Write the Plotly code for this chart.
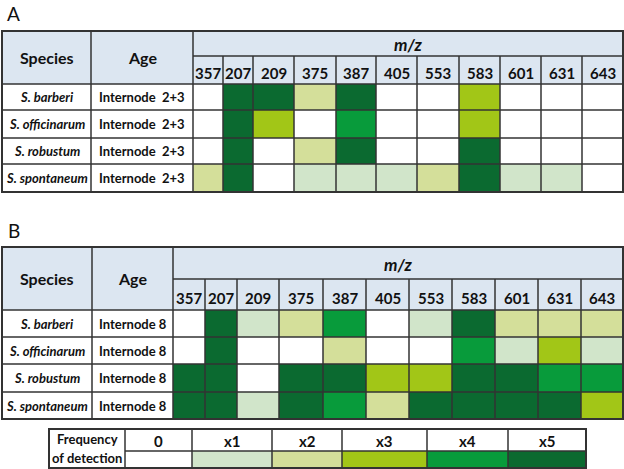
import plotly.graph_objects as go

# ---------------- data ----------------
mz_labels = ["357", "207", "209", "375", "387", "405", "553", "583", "601", "631", "643"]
species = ["S. barberi", "S. officinarum", "S. robustum", "S. spontaneum"]
age_A = "Internode  2+3"
age_B = "Internode 8"

# frequency of detection (0 .. 5)
freq_A_barberi = [0, 5, 5, 2, 5, 0, 0, 3, 0, 0, 0]
freq_A_officinarum = [0, 5, 3, 0, 4, 0, 0, 3, 0, 0, 0]
freq_A_robustum = [0, 5, 0, 2, 5, 0, 0, 5, 0, 0, 0]
freq_A_spontaneum = [2, 5, 0, 1, 1, 1, 2, 5, 1, 1, 0]

freq_B_barberi = [0, 5, 1, 2, 4, 0, 1, 5, 2, 2, 2]
freq_B_officinarum = [0, 5, 0, 0, 2, 0, 0, 4, 1, 3, 1]
freq_B_robustum = [5, 5, 0, 5, 5, 3, 3, 5, 5, 4, 4]
freq_B_spontaneum = [5, 5, 1, 5, 4, 2, 5, 5, 5, 5, 3]

legend_levels = [0, 1, 2, 3, 4, 5]
legend_labels = ["0", "x1", "x2", "x3", "x4", "x5"]

# ---------------- style / layout ----------------
W, H = 624, 469
level_colors = ["#ffffff", "#d1e5ca", "#d4df9a", "#a2c617", "#089b3b", "#0b6a30"]
header_bg = "#dce6f1"
line_col = "#333333"
FONT = "Lato"

colorscale = []
for i, c in enumerate(level_colors):
    colorscale.append([i / 6, c])
    colorscale.append([(i + 1) / 6, c])

panels = [
    dict(label="A", label_xy=(13, 1), age=age_A,
         z=[freq_A_barberi, freq_A_officinarum, freq_A_robustum, freq_A_spontaneum],
         left=2, right=623, top=31, mid=56, hdr=84,
         rows=[84, 110, 138, 164, 192],
         col_species=91, col_age=193,
         cols=[193, 223, 253, 294, 336, 376, 417, 459, 500, 541, 582, 623]),
    dict(label="B", label_xy=(14, 218), age=age_B,
         z=[freq_B_barberi, freq_B_officinarum, freq_B_robustum, freq_B_spontaneum],
         left=2, right=623, top=247, mid=279, hdr=310,
         rows=[310, 337, 364, 392, 419],
         col_species=92, col_age=173,
         cols=[173, 205, 237, 279, 323, 366, 409, 452, 495, 538, 581, 623]),
]

fig = go.Figure()
shapes = []
annotations = []


def line(x0, y0, x1, y1, w=1.5):
    shapes.append(dict(type="line", x0=x0, y0=y0, x1=x1, y1=y1, xref="x", yref="y",
                       line=dict(color=line_col, width=w), layer="above"))


def text(x, y, s, size=13, bold=True, italic=False):
    t = s
    if italic:
        t = "<i>" + t + "</i>"
    if bold:
        t = "<b>" + t + "</b>"
    annotations.append(dict(x=x, y=y, xref="x", yref="y", text=t, showarrow=False,
                            font=dict(family=FONT, size=size, color="#111111"),
                            xanchor="center", yanchor="middle"))


for p in panels:
    # header background
    shapes.append(dict(type="rect", x0=p["left"], x1=p["right"], y0=p["top"], y1=p["hdr"],
                       xref="x", yref="y", fillcolor=header_bg, line=dict(width=0), layer="below"))
    # cells
    fig.add_trace(go.Heatmap(z=p["z"], x=p["cols"], y=p["rows"], colorscale=colorscale,
                             zmin=-0.5, zmax=5.5, showscale=False, hoverinfo="skip"))
    # grid
    for y in p["rows"][:-1]:
        line(p["left"], y, p["right"], y)
    line(p["col_age"], p["mid"], p["right"], p["mid"])
    line(p["col_species"], p["top"], p["col_species"], p["rows"][-1])
    line(p["col_age"], p["top"], p["col_age"], p["rows"][-1])
    for x in p["cols"][1:-1]:
        line(x, p["mid"], x, p["rows"][-1])
    shapes.append(dict(type="rect", x0=p["left"], x1=p["right"], y0=p["top"], y1=p["rows"][-1],
                       xref="x", yref="y", line=dict(color=line_col, width=2), layer="above"))
    # texts
    hc = (p["top"] + p["hdr"]) / 2
    text((p["left"] + p["col_species"]) / 2, hc, "Species", size=16)
    text((p["col_species"] + p["col_age"]) / 2, hc, "Age", size=16)
    text((p["col_age"] + p["right"]) / 2, (p["top"] + p["mid"]) / 2 + 1, "m/z", size=17, italic=True)
    for i, lab in enumerate(mz_labels):
        text((p["cols"][i] + p["cols"][i + 1]) / 2, (p["mid"] + p["hdr"]) / 2 + 3, lab, size=15)
    for r, sp in enumerate(species):
        yc = (p["rows"][r] + p["rows"][r + 1]) / 2
        text((p["left"] + p["col_species"]) / 2, yc, sp, size=13, italic=True)
        text((p["col_species"] + p["col_age"]) / 2, yc, p["age"], size=13)
    annotations.append(dict(x=p["label_xy"][0], y=p["label_xy"][1], xref="x", yref="y",
                            text=p["label"], showarrow=False, borderpad=0,
                            font=dict(family=FONT, size=19, color="#111111"),
                            xanchor="center", yanchor="top"))

# ---------------- frequency legend ----------------
lg_left, lg_lab, lg_top, lg_mid, lg_bot = 49, 125, 429, 451, 468
lg_cols = [125, 192, 272, 342, 427, 508, 586]
fig.add_trace(go.Heatmap(z=[legend_levels], x=lg_cols, y=[lg_mid, lg_bot], colorscale=colorscale,
                         zmin=-0.5, zmax=5.5, showscale=False, hoverinfo="skip"))
line(lg_lab, lg_mid, lg_cols[-1], lg_mid)
for x in lg_cols[:-1]:
    line(x, lg_top, x, lg_bot)
shapes.append(dict(type="rect", x0=lg_left, x1=lg_cols[-1], y0=lg_top, y1=lg_bot,
                   xref="x", yref="y", line=dict(color=line_col, width=2), layer="above"))
text((lg_left + lg_lab) / 2, 439, "Frequency", size=13)
text((lg_left + lg_lab) / 2, 458, "of detection", size=13)
for i, lab in enumerate(legend_labels):
    text((lg_cols[i] + lg_cols[i + 1]) / 2, (lg_top + lg_mid) / 2 + 1, lab, size=15)

fig.update_layout(
    width=W, height=H,
    margin=dict(l=0, r=0, t=0, b=0),
    paper_bgcolor="white", plot_bgcolor="white",
    xaxis=dict(range=[0, W], visible=False, fixedrange=True),
    yaxis=dict(range=[H, 0], visible=False, fixedrange=True),
    shapes=shapes, annotations=annotations, showlegend=False,
)

fig.write_html("out.html", config={"displayModeBar": False},
               post_script="document.body.style.margin='0px';document.body.style.overflow='hidden';")
